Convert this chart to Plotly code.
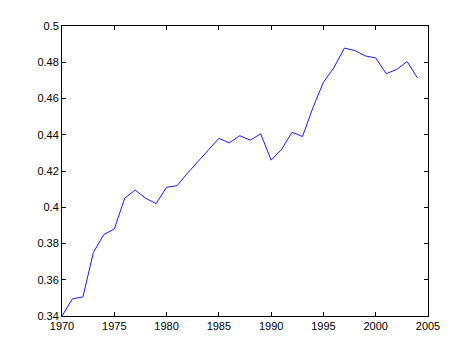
import plotly.graph_objects as go

years = list(range(1970, 2005))
values = [0.340, 0.3495, 0.3505, 0.375, 0.385, 0.388, 0.405, 0.4095, 0.405, 0.402,
          0.411, 0.4119, 0.4188, 0.4252, 0.432, 0.438, 0.4355, 0.4395, 0.437, 0.4405,
          0.426, 0.432, 0.4414, 0.439, 0.455, 0.469, 0.477, 0.4878, 0.4865, 0.4835,
          0.4824, 0.4737, 0.476, 0.4804, 0.4713]

x_ticks = [1970, 1975, 1980, 1985, 1990, 1995, 2000, 2005]
x_ticktext = ["1970", "1975", "1980", "1985", "1990", "1995", "2000", "2005"]
y_ticks = [0.34, 0.36, 0.38, 0.40, 0.42, 0.44, 0.46, 0.48, 0.50]
y_ticktext = ["0.34", "0.36", "0.38", "0.4", "0.42", "0.44", "0.46", "0.48", "0.5"]

fig = go.Figure()
fig.add_trace(go.Scatter(x=years, y=values, mode="lines",
                         line=dict(color="#1a1aff", width=1), showlegend=False))

axis_common = dict(showline=True, linecolor="black", linewidth=1, mirror="ticks",
                   ticks="inside", ticklen=4, tickcolor="black", tickwidth=1,
                   showgrid=False, zeroline=False,
                   tickfont=dict(family="Liberation Sans, Arial, sans-serif", size=11, color="black"))

fig.update_xaxes(range=[1970, 2005], tickvals=x_ticks, ticktext=x_ticktext, **axis_common)
fig.update_yaxes(range=[0.34, 0.5], tickvals=y_ticks, ticktext=y_ticktext, **axis_common)

fig.update_layout(width=474, height=355,
                  margin=dict(l=62, r=46, t=26, b=39, pad=0),
                  paper_bgcolor="white", plot_bgcolor="white")

fig.write_html("out.html")
